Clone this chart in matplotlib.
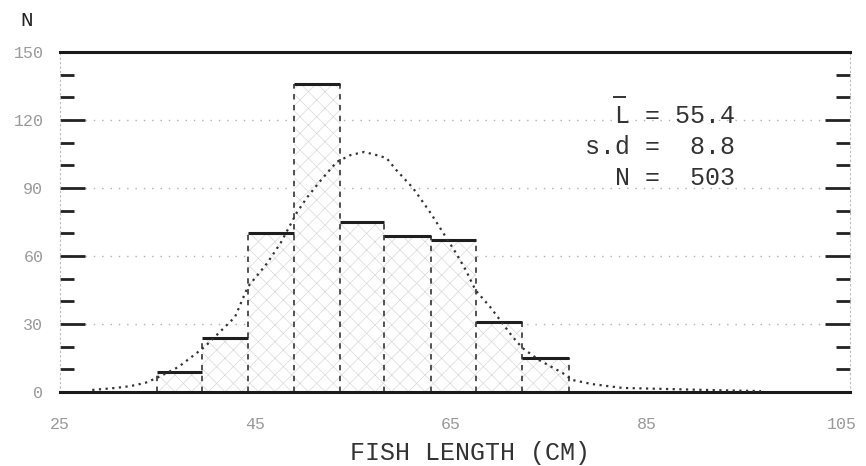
import matplotlib
matplotlib.use("Agg")
import matplotlib.pyplot as plt
from matplotlib.ticker import MultipleLocator

plt.rcParams['font.family'] = ['Liberation Mono', 'DejaVu Sans Mono']
plt.rcParams['hatch.linewidth'] = 0.5

# histogram
bin_edges = [34.9, 39.5, 44.2, 48.9, 53.6, 58.1, 62.9, 67.5, 72.3, 77.1]
counts = [9, 24, 70, 136, 75, 69, 67, 31, 15]

# fitted curve, points picked off the dotted line
curve_x = [28.3, 30.7, 32.2, 33.7, 34.9, 37.1, 39.8, 42.9, 44.2, 46.2, 47.6,
           49.2, 50.3, 51.7, 53.3, 54.7, 56.1, 57.4, 58.4, 59.4, 61.1, 62.9,
           65.5, 66.5, 67.5, 69.0, 71.3, 72.3, 74.0, 76.4, 77.4, 79.4, 82.5,
           91.1, 96.7]
curve_y = [0.9, 1.8, 2.6, 4.0, 6.2, 11.0, 19.9, 33.1, 46.3, 56.9, 66.0,
           79.0, 86.0, 93.5, 101.5, 104.5, 105.9, 104.5, 103.2, 97.9, 90.0, 79.0,
           61.3, 53.8, 44.9, 37.5, 24.3, 19.4, 14.1, 8.4, 5.3, 3.5, 1.8,
           0.9, 0.4]

x_ticks = [25, 45, 65, 85, 105]
y_ticks = [0, 30, 60, 90, 120, 150]
stats = ["  L = 55.4", "s.d =  8.8", "  N =  503"]

fig = plt.figure(figsize=(8.66, 4.66), dpi=100)
ax = fig.add_axes([60/866, 74/466, 790/866, 340/466])
ax.set_xlim(25.6, 105.8)
ax.set_ylim(0, 150)

# dotted grid
for g in y_ticks[1:-1]:
    ax.axhline(g, color='#b0b0b0', lw=1.0, ls=(0, (1, 5)), zorder=0)

# bars: light crosshatch, solid tops, dashed sides
widths = [bin_edges[i+1] - bin_edges[i] for i in range(len(counts))]
ax.bar(bin_edges[:-1], counts, width=widths, align='edge', facecolor='white',
       edgecolor='#d9d9d9', hatch='xx', linewidth=0, zorder=1)
ax.hlines(counts, bin_edges[:-1], bin_edges[1:], color='#1e1e1e', lw=2.2, zorder=3)
side_h = []
for i in range(len(bin_edges)):
    left = counts[i-1] if i > 0 else 0
    right = counts[i] if i < len(counts) else 0
    side_h.append(max(left, right))
ax.vlines(bin_edges, 0, side_h, color='#444444', lw=1.3, ls=(0, (3, 3)), zorder=2)

ax.plot(curve_x, curve_y, color='#333333', lw=1.6, ls=(0, (1, 2)), zorder=4)

# spines
for s in ['top', 'bottom']:
    ax.spines[s].set_linewidth(2.2)
    ax.spines[s].set_color('#1a1a1a')
for s in ['left', 'right']:
    ax.spines[s].set_linewidth(0.8)
    ax.spines[s].set_color('#bbbbbb')
    ax.spines[s].set_linestyle((0, (1, 3)))

ax.set_xticks(x_ticks)
ax.set_xticklabels([str(t) for t in x_ticks])
ax.set_yticks(y_ticks)
ax.set_yticklabels([str(t) for t in y_ticks])
ax.yaxis.set_minor_locator(MultipleLocator(10))
ax.tick_params(axis='x', length=0, pad=18, labelsize=12, labelcolor='#999999')
ax.tick_params(axis='y', which='major', direction='in', length=18, width=2,
               color='#222222', left=True, right=True, pad=12,
               labelsize=12, labelcolor='#999999')
ax.tick_params(axis='y', which='minor', direction='in', length=10, width=2,
               color='#222222', left=True, right=True)

# stats box
ys = [0.812, 0.721, 0.629]
for s, yy in zip(stats, ys):
    ax.text(0.854, yy, s, transform=ax.transAxes, ha='right', va='center',
            fontsize=18, color='#333333')
ax.plot([0.700, 0.716], [0.868, 0.868], transform=ax.transAxes,
        color='#333333', lw=1.4, solid_capstyle='butt')

fig.text(27/866, 1 - 20/466, 'N', ha='center', va='center', fontsize=15,
         color='#222222')
fig.text(470/866, 1 - 453/466, 'FISH LENGTH (CM)', ha='center', va='center',
         fontsize=18, color='#333333')

fig.savefig('out.png', dpi=100)
